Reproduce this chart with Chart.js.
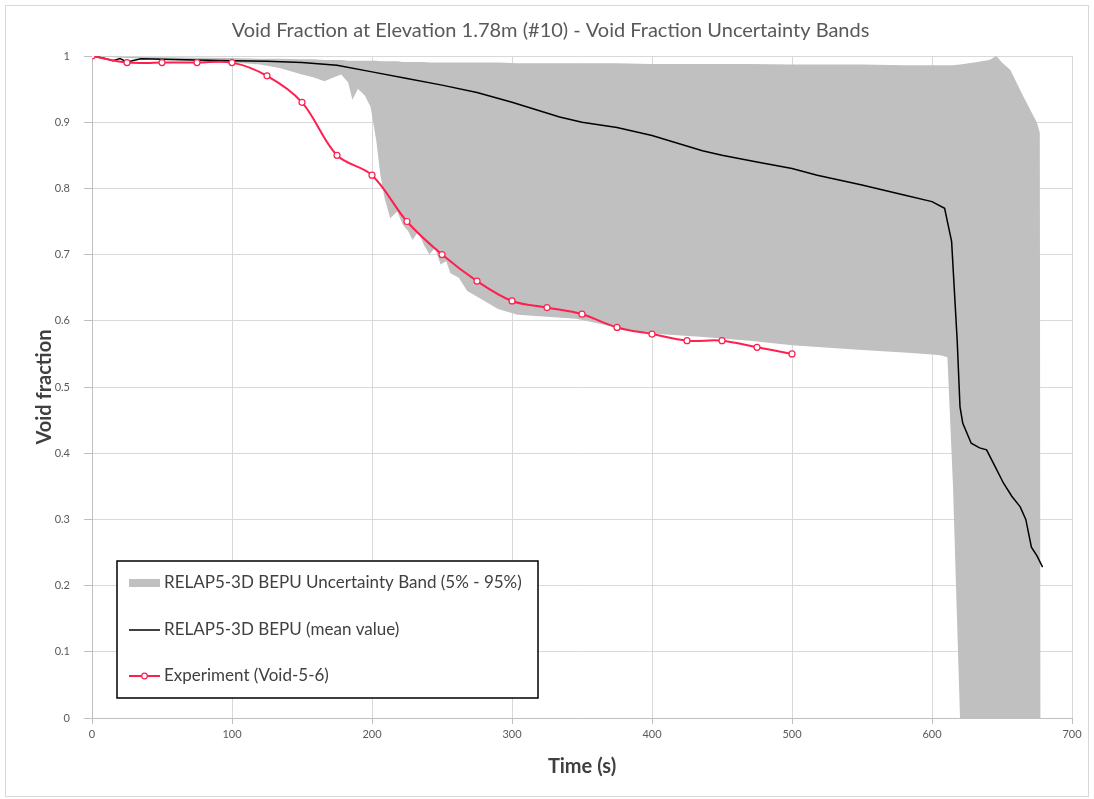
<!DOCTYPE html>
<html>
<head>
<meta charset="utf-8">
<title>Void Fraction at Elevation 1.78m</title>
<script src="https://cdn.jsdelivr.net/npm/chart.js@4.4.1/dist/chart.umd.min.js"></script>
<style>
  body { margin: 0; background: #fff; }
  #voidChart { display: block; }
</style>
</head>
<body>
<canvas id="voidChart" width="1094" height="799"></canvas>
<script>
// Data
const expTime = [0, 25, 50, 75, 100, 125, 150, 175, 200, 225, 250, 275, 300, 325, 350, 375, 400, 425, 450, 475, 500]
const expVoid = [1.0, 0.99, 0.99, 0.99, 0.99, 0.97, 0.93, 0.85, 0.82, 0.75, 0.70, 0.66, 0.63, 0.62, 0.61, 0.59, 0.58, 0.57, 0.57, 0.56, 0.55]

const meanTime = [0, 8, 15, 20, 25, 35, 50, 75, 100, 125, 150, 175, 200, 225, 250, 275, 300, 334, 350, 375, 400, 436, 450, 475, 500, 518, 550, 580, 600, 609, 614, 618, 620, 622, 628, 634, 639, 645, 651, 657, 663, 667, 671, 675, 679]
const meanVoid = [1.0, 0.997, 0.993, 0.996, 0.991, 0.996, 0.995, 0.994, 0.993, 0.992, 0.99, 0.986, 0.976, 0.966, 0.956, 0.945, 0.93, 0.908, 0.9, 0.892, 0.88, 0.857, 0.85, 0.84, 0.83, 0.82, 0.805, 0.79, 0.78, 0.77, 0.72, 0.57, 0.47, 0.445, 0.415, 0.408, 0.405, 0.38, 0.355, 0.335, 0.319, 0.3, 0.258, 0.245, 0.228]

const bandTime = [0, 50, 100, 120, 134, 150, 158, 166, 172, 178, 183, 186, 190, 195, 199, 203, 206, 209, 213, 218, 222, 226, 229, 233, 237, 241, 245, 249, 253, 256, 262, 268, 277, 290, 304, 325, 346, 375, 399, 434, 470, 500, 550, 580, 600, 606, 611, 615, 620, 630, 641, 646, 650, 656, 665, 675, 677, 677.6]
const bandLow = [1.0, 0.994, 0.99, 0.987, 0.982, 0.972, 0.968, 0.962, 0.967, 0.972, 0.96, 0.934, 0.95, 0.94, 0.923, 0.873, 0.82, 0.785, 0.755, 0.765, 0.745, 0.735, 0.722, 0.735, 0.715, 0.70, 0.71, 0.685, 0.69, 0.672, 0.665, 0.645, 0.634, 0.618, 0.609, 0.606, 0.603, 0.59, 0.581, 0.576, 0.57, 0.563, 0.556, 0.552, 0.549, 0.548, 0.545, 0.35, 0, 0, 0, 0, 0, 0, 0, 0, 0, 0]
const bandHigh = [1.0, 0.998, 0.997, 0.996, 0.996, 0.995, 0.995, 0.994, 0.994, 0.994, 0.993, 0.993, 0.993, 0.993, 0.993, 0.993, 0.992, 0.992, 0.992, 0.992, 0.991, 0.991, 0.991, 0.991, 0.991, 0.99, 0.99, 0.99, 0.99, 0.99, 0.99, 0.99, 0.99, 0.99, 0.989, 0.989, 0.989, 0.989, 0.988, 0.988, 0.988, 0.987, 0.987, 0.986, 0.986, 0.986, 0.986, 0.986, 0.987, 0.99, 0.994, 1.0, 0.99, 0.979, 0.94, 0.899, 0.884, 0]

const xTicks = [0, 100, 200, 300, 400, 500, 600, 700]
const yTicks = [0, 0.1, 0.2, 0.3, 0.4, 0.5, 0.6, 0.7, 0.8, 0.9, 1]

const labels = {
  band: "RELAP5-3D BEPU Uncertainty Band (5% - 95%)",
  mean: "RELAP5-3D BEPU (mean value)",
  exp: "Experiment (Void-5-6)"
}

const FONT = "Lato, 'Open Sans', sans-serif"
const RED = "#ff1f4f"
const BAND = "#c0c0c0"

const pts = (xs, ys) => xs.map((x, i) => ({ x: x, y: ys[i] }))

// white background + thin outer frame
const frame = {
  id: "frame",
  beforeDraw(chart) {
    const c = chart.ctx
    c.save()
    c.fillStyle = "#fff"
    c.fillRect(0, 0, chart.width, chart.height)
    c.strokeStyle = "#d9d9d9"
    c.lineWidth = 1
    c.strokeRect(5.5, 5.5, chart.width - 11, chart.height - 8)
    c.restore()
  }
}

// boxed legend inside the plot, lower left
const boxLegend = {
  id: "boxLegend",
  afterDraw(chart) {
    const c = chart.ctx
    const ds = chart.data.datasets
    const x0 = 117, y0 = 561, w = 421, h = 137
    c.save()
    c.fillStyle = "#fff"
    c.fillRect(x0, y0, w, h)
    c.strokeStyle = "#000"
    c.lineWidth = 1.5
    c.strokeRect(x0, y0, w, h)

    c.font = "17px " + FONT
    c.textBaseline = "middle"
    const rows = [583, 630, 676]

    // band swatch
    c.fillStyle = ds[0].backgroundColor
    c.fillRect(129, rows[0] - 4, 31, 8)
    // mean line
    c.strokeStyle = ds[2].borderColor
    c.lineWidth = 1.5
    c.beginPath(); c.moveTo(129, rows[1]); c.lineTo(160, rows[1]); c.stroke()
    // experiment line + marker
    c.strokeStyle = ds[3].borderColor
    c.lineWidth = 2
    c.beginPath(); c.moveTo(129, rows[2]); c.lineTo(160, rows[2]); c.stroke()
    c.fillStyle = "#fff"
    c.lineWidth = 1.2
    c.beginPath(); c.arc(144.5, rows[2], 2.8, 0, Math.PI * 2); c.fill(); c.stroke()

    c.fillStyle = "#404040"
    c.fillText(ds[0].label, 164, rows[0])
    c.fillText(ds[2].label, 164, rows[1])
    c.fillText(ds[3].label, 164, rows[2])
    c.restore()
  }
}

const ctx = document.querySelector("#voidChart").getContext("2d")

const chart = new Chart(ctx, {
  type: "line",
  data: {
    datasets: [{
      label: labels.band,
      data: pts(bandTime, bandHigh),
      borderWidth: 0,
      pointRadius: 0,
      backgroundColor: BAND,
      fill: "+1",
      tension: 0,
      order: 10
    }, {
      label: "band low",
      data: pts(bandTime, bandLow),
      borderWidth: 0,
      pointRadius: 0,
      fill: false,
      tension: 0,
      order: 10
    }, {
      label: labels.mean,
      data: pts(meanTime, meanVoid),
      borderColor: "#000",
      borderWidth: 1.5,
      pointRadius: 0,
      fill: false,
      tension: 0,
      order: 2
    }, {
      label: labels.exp,
      data: pts(expTime, expVoid),
      borderColor: RED,
      borderWidth: 2,
      pointRadius: 3,
      pointBorderWidth: 1.2,
      pointBackgroundColor: "#fff",
      pointBorderColor: RED,
      fill: false,
      tension: 0.35,
      order: 1
    }]
  },
  options: {
    responsive: false,
    animation: false,
    layout: {
      padding: { left: 29, right: 22, top: 0, bottom: 16 }
    },
    scales: {
      x: {
        type: "linear",
        min: 0,
        max: 700,
        afterFit: (scale) => { scale.height = 65 },
        afterBuildTicks: (scale) => { scale.ticks = xTicks.map(v => ({ value: v })) },
        ticks: {
          color: "#595959",
          font: { family: FONT, size: 11 },
          padding: 4,
          maxRotation: 0
        },
        grid: {
          color: "#d9d9d9",
          tickColor: "#bfbfbf",
          tickLength: 6
        },
        border: { color: "#bfbfbf" },
        title: {
          display: true,
          text: "Time (s)",
          color: "#404040",
          font: { family: FONT, size: 20, weight: "bold" },
          padding: { top: 4, bottom: 4 }
        }
      },
      y: {
        min: 0,
        max: 1,
        afterFit: (scale) => { scale.width = 63 },
        afterBuildTicks: (scale) => { scale.ticks = yTicks.map(v => ({ value: v })) },
        ticks: {
          color: "#595959",
          font: { family: FONT, size: 11 },
          padding: 14,
          callback: (v) => String(+v.toFixed(1))
        },
        grid: {
          color: "#d9d9d9",
          tickColor: "#bfbfbf",
          tickLength: 8
        },
        border: { color: "#bfbfbf" },
        title: {
          display: true,
          text: "Void fraction",
          color: "#404040",
          font: { family: FONT, size: 20, weight: "bold" },
          padding: { top: 4, bottom: 4 }
        }
      }
    },
    plugins: {
      legend: { display: false },
      tooltip: { enabled: false },
      title: {
        display: true,
        text: "Void Fraction at Elevation 1.78m (#10) - Void Fraction Uncertainty Bands",
        color: "#595959",
        font: { family: FONT, size: 20, weight: "normal" },
        padding: { top: 19, bottom: 13 }
      }
    }
  },
  plugins: [frame, boxLegend]
})
</script>
</body>
</html>
